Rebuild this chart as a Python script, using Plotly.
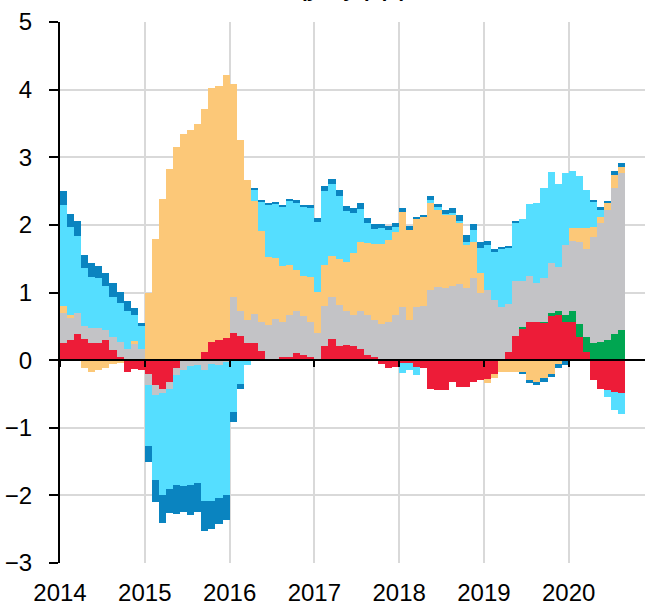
import plotly.graph_objects as go

years = [2014, 2015, 2016, 2017, 2018, 2019, 2020]
year_labels = ["2014", "2015", "2016", "2017", "2018", "2019", "2020"]

# monthly, Jan 2014 .. Aug 2020 (80 months)
red = [0.26, 0.30, 0.38, 0.31, 0.26, 0.26, 0.30, 0.15, 0.05, -0.17, -0.13, -0.14,
       -0.20, -0.37, -0.42, -0.33, -0.12, -0.02, 0.00, 0.00, 0.12, 0.27, 0.30, 0.33,
       0.40, 0.35, 0.26, 0.26, 0.13, 0.02, 0.02, 0.05, 0.05, 0.10, 0.07, 0.05,
       0.01, 0.21, 0.31, 0.21, 0.22, 0.21, 0.16, 0.07, 0.04, -0.06, -0.12, -0.10,
       -0.04, -0.04, -0.10, -0.12, -0.42, -0.44, -0.44, -0.33, -0.40, -0.40, -0.33, -0.30,
       -0.28, -0.20, 0.00, 0.12, 0.35, 0.47, 0.57, 0.57, 0.55, 0.65, 0.66, 0.56,
       0.57, 0.34, 0.12, -0.30, -0.43, -0.44, -0.47, -0.49]
green = [0.0] * 65 + [0.02, 0.00, 0.00, 0.02, 0.04, 0.07, 0.10,
                      0.15, 0.20, 0.22, 0.25, 0.27, 0.30, 0.38, 0.44]
grey = [0.44, 0.33, 0.32, 0.20, 0.21, 0.21, 0.15, 0.19, 0.22, 0.17, 0.24, 0.16,
        -0.17, -0.15, -0.07, -0.10, -0.10, -0.12, -0.08, -0.07, -0.15, -0.05, -0.07, -0.03,
        0.53, 0.37, 0.33, 0.42, 0.44, 0.50, 0.59, 0.52, 0.61, 0.62, 0.58, 0.52,
        0.39, 0.59, 0.63, 0.61, 0.51, 0.46, 0.57, 0.59, 0.55, 0.54, 0.57, 0.67,
        0.79, 0.59, 0.78, 0.80, 1.03, 1.08, 1.07, 1.09, 1.12, 1.07, 1.22, 0.99,
        1.03, 0.89, 0.79, 0.71, 0.82, 0.68, 0.67, 0.57, 0.64, 0.74, 0.64, 1.04,
        1.04, 1.21, 1.31, 1.57, 1.76, 1.92, 2.16, 2.32]
orange = [0.10, 0.03, 0.00, -0.12, -0.18, -0.15, -0.12, -0.06, -0.04, 0.00, 0.04, 0.00,
          1.00, 1.79, 2.39, 2.82, 3.15, 3.35, 3.40, 3.49, 3.60, 3.75, 3.76, 3.89,
          3.15, 2.53, 2.07, 1.67, 1.34, 1.01, 0.90, 0.82, 0.74, 0.61, 0.59, 0.66,
          0.61, 0.60, 0.60, 0.68, 0.72, 0.91, 1.02, 1.07, 1.12, 1.17, 1.21, 1.23,
          1.40, 1.34, 1.31, 1.31, 1.29, 1.14, 1.08, 1.05, 0.91, 0.63, 0.53, 0.30,
          -0.06, -0.07, -0.17, -0.17, -0.17, -0.17, -0.30, -0.32, -0.27, -0.20, -0.06, -0.02,
          0.20, 0.21, 0.31, 0.15, 0.09, 0.10, 0.20, 0.09]
cyan = [1.50, 1.31, 1.14, 0.85, 0.76, 0.75, 0.64, 0.59, 0.57, 0.56, 0.39, 0.34,
        -0.90, -1.25, -1.50, -1.48, -1.63, -1.72, -1.77, -1.75, -1.93, -2.03, -1.97, -1.97,
        -0.77, -0.36, -0.07, 0.18, 0.43, 0.76, 0.80, 0.88, 0.95, 1.00, 1.02, 1.02,
        1.03, 1.10, 1.07, 0.93, 0.76, 0.60, 0.48, 0.30, 0.23, 0.24, 0.15, 0.07,
        -0.15, -0.10, -0.12, 0.00, 0.05, 0.04, 0.01, 0.03, 0.03, 0.05, 0.17, 0.37,
        0.67, 0.71, 0.85, 0.83, 0.87, 0.92, 1.07, 1.18, 1.34, 1.35, 1.24, 1.07,
        0.84, 0.76, 0.56, 0.37, 0.10, -0.11, -0.27, -0.30]
dark_blue = [0.20, 0.19, 0.22, 0.20, 0.20, 0.17, 0.20, 0.21, 0.17, 0.15, 0.10, 0.05,
             -0.23, -0.33, -0.42, -0.35, -0.43, -0.39, -0.44, -0.42, -0.44, -0.42, -0.39, -0.37,
             -0.15, -0.07, 0.00, 0.02, 0.03, 0.03, 0.03, 0.03, 0.03, 0.04, 0.04, 0.04,
             0.06, 0.08, 0.07, 0.08, 0.07, 0.07, 0.09, 0.07, 0.07, 0.06, 0.06, 0.06,
             0.06, 0.05, 0.03, 0.03, 0.05, 0.05, 0.06, 0.08, 0.09, 0.10, 0.09, 0.09,
             0.06, 0.05, 0.04, 0.02, 0.01, -0.03, -0.04, -0.05, -0.06, -0.05, -0.05, -0.05,
             0.00, 0.00, 0.00, 0.03, 0.04, 0.04, 0.05, 0.07]

n = len(red)
months_x = [2014 + (i + 0.5) / 12 for i in range(n)]

series = [
    ("red", red, "#ED1C38"),
    ("green", green, "#00A651"),
    ("grey", grey, "#C3C3C6"),
    ("orange", orange, "#FCC878"),
    ("cyan", cyan, "#55DEFF"),
    ("dark blue", dark_blue, "#0A84C0"),
]

fig = go.Figure()
for name, vals, col in series:
    fig.add_trace(go.Bar(x=months_x, y=vals, width=1 / 12, name=name,
                         marker=dict(color=col, line=dict(width=0)),
                         showlegend=False))

# invisible trace carrying the zero-line axis with year ticks
fig.add_trace(go.Scatter(x=[2014], y=[0], xaxis="x2", mode="markers",
                         marker=dict(opacity=0), hoverinfo="skip", showlegend=False))

font = dict(family="Liberation Sans, Arial, sans-serif", size=24, color="black")

fig.update_layout(
    width=645, height=605,
    margin=dict(l=60, r=0, t=22, b=42, autoexpand=False),
    barmode="relative", bargap=0,
    plot_bgcolor="white", paper_bgcolor="white",
    font=font,
    xaxis=dict(range=[2014, 2020.9], tickvals=years, ticktext=year_labels,
               showgrid=True, gridcolor="#D9D9D9", gridwidth=2,
               ticks="", showline=False, zeroline=False, automargin=False,
               tickfont=font, ticklabelstandoff=13),
    xaxis2=dict(range=[2014, 2020.9], overlaying="x", anchor="free", position=0.375,
                side="bottom", tickvals=years, showticklabels=False,
                ticks="outside", ticklen=6, tickwidth=2, tickcolor="black",
                showline=True, linecolor="black", linewidth=2, automargin=False,
                showgrid=False, zeroline=False),
    yaxis=dict(range=[-3, 5], dtick=1, showgrid=True, gridcolor="#D9D9D9", gridwidth=2,
               zeroline=False, showline=True, linecolor="black", linewidth=2,
               ticks="outside", ticklen=9, tickwidth=2, tickcolor="black",
               automargin=False, tickfont=font, ticklabelstandoff=12),
    annotations=[dict(text="<b>(y-o-y, p.p.)</b>", xref="paper", yref="paper",
                      x=0.5, y=1, yanchor="bottom", yshift=19, showarrow=False,
                      font=dict(family="Liberation Sans, Arial, sans-serif", size=20,
                                color="black"))],
)

fig.write_html("out.html", config={"displayModeBar": False},
               post_script="document.body.style.margin='0px';"
                           "document.body.style.overflow='hidden';")
